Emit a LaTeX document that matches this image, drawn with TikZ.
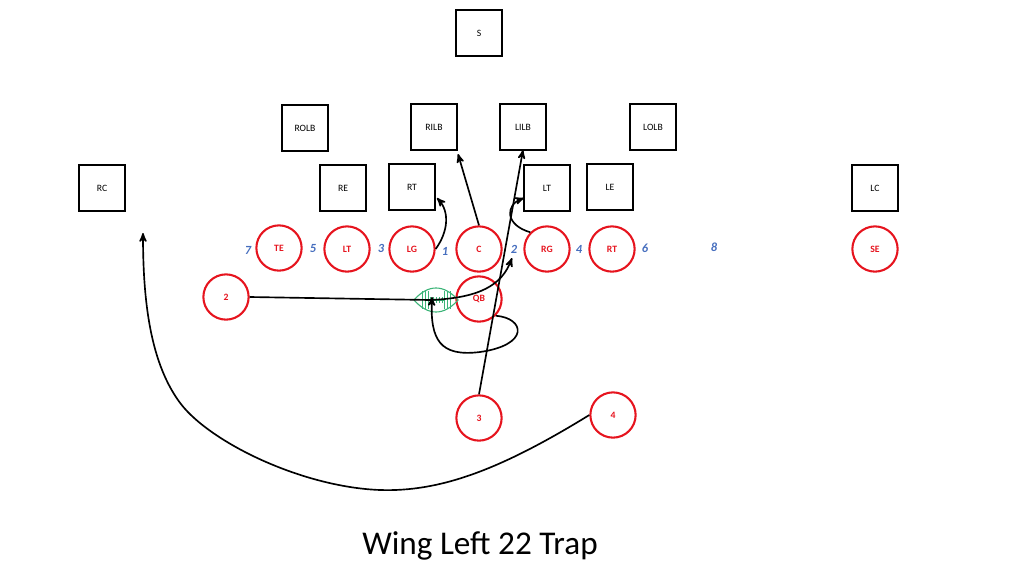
\documentclass[tikz,border=0pt]{standalone}
\usepackage{tikz}
\usepackage{fontspec}
\setmainfont{Carlito}
\usetikzlibrary{arrows,calc}
\definecolor{plred}{RGB}{230,20,30}
\definecolor{plblue}{RGB}{70,110,190}
\definecolor{plgreen}{RGB}{60,180,120}
\tikzset{>=stealth',
	dbox/.style={rectangle,draw=black,line width=1.5pt,minimum size=1.18cm,font=\scriptsize},
	opl/.style={circle,draw=plred,line width=1.5pt,minimum size=1.15cm,inner sep=0pt,text=plred,font=\scriptsize\bfseries},
	gapno/.style={text=plblue,font=\itshape\bfseries\small},
	route/.style={->,line width=1.2pt}}
\begin{document}
\begin{tikzpicture}[x=0.0254cm,y=-0.0254cm]
	\useasboundingbox (0,0) rectangle (1024,576);
	% defense
	\node (S) at (479,33) [dbox] {S};
	\node (ROLB) at (305,128) [dbox] {ROLB};
	\node (RILB) at (434,127) [dbox] {RILB};
	\node (LILB) at (523,127) [dbox] {LILB};
	\node (LOLB) at (653,127) [dbox] {LOLB};
	\node (RC) at (102,188) [dbox] {RC};
	\node (RE) at (343,188) [dbox] {RE};
	\node (DRT) at (412,187) [dbox] {RT};
	\node (DLT) at (547,188) [dbox] {LT};
	\node (LE) at (610,187) [dbox] {LE};
	\node (LC) at (875,188) [dbox] {LC};
	% offense
	\node (TE) at (279,248) [opl] {TE};
	\node (OLT) at (347,249) [opl] {LT};
	\node (LG) at (412,249) [opl] {LG};
	\node (C) at (479,249) [opl] {C};
	\node (RG) at (547,249) [opl] {RG};
	\node (ORT) at (612,249) [opl] {RT};
	\node (SE) at (875,249) [opl] {SE};
	\node (B2) at (226,297) [opl] {2};
	\node (QB) at (479,299) [opl] {QB};
	\node (B3) at (479,418) [opl] {3};
	\node (B4) at (613,415) [opl] {4};
	% holes
	\node at (248,250) [gapno] {7};
	\node at (313,249) [gapno] {5};
	\node at (381,248) [gapno] {3};
	\node at (445,251) [gapno] {1};
	\node at (514,249) [gapno] {2};
	\node at (579,249) [gapno] {4};
	\node at (645,248) [gapno] {6};
	\node at (714,247) [gapno] {8};
	% ball
	\coordinate (ball) at (436,300);
	\draw [plgreen,line width=0.8pt] ($(ball)+(-22,0)$) .. controls ($(ball)+(-8,-16)$) and ($(ball)+(8,-16)$) .. ($(ball)+(22,0)$)
		.. controls ($(ball)+(8,16)$) and ($(ball)+(-8,16)$) .. ($(ball)+(-22,0)$);
	\foreach \i in {-14,-11,-8,8,11,14}
		\draw [plgreen,line width=0.6pt] ($(ball)+(\i,-9)$) -- ($(ball)+(\i,9)$);
	\draw [plgreen,line width=0.6pt] ($(ball)+(-8,0)$) -- ($(ball)+(8,0)$);
	\foreach \i in {-6,-3,0,3,6}
		\draw [plgreen,line width=0.6pt] ($(ball)+(\i,-3)$) -- ($(ball)+(\i,3)$);
	% routes
	\coordinate (lgend) at (437,198);
	\coordinate (rgend) at (524,198);
	\coordinate (bend2) at (430,300);
	\coordinate (end2) at (512,258);
	\coordinate (qbend) at (432,297);
	\coordinate (end4) at (143,233);
	\draw [route] (LG.east) .. controls (448,232) and (450,212) .. (lgend);
	\draw [route] (C.north) -- (458,154);
	\draw [route] (RG.north west) .. controls (505,225) and (505,205) .. (rgend);
	\draw [route] (B3.north) -- (523,150);
	\draw [route] (B2.east) -- (bend2) .. controls (480,298) and (502,285) .. (end2);
	\draw [route] (QB.south east) .. controls (525,318) and (530,345) .. (480,352)
		.. controls (440,357) and (430,340) .. (qbend);
	\draw [route] (B4.west) .. controls (500,470) and (440,492) .. (380,490)
		.. controls (300,487) and (205,440) .. (178,400)
		.. controls (150,360) and (143,300) .. (end4);
	% title
	\node (title) at (480,546) {\fontsize{24}{28}\selectfont Wing Left 22 Trap};
\end{tikzpicture}
\end{document}
